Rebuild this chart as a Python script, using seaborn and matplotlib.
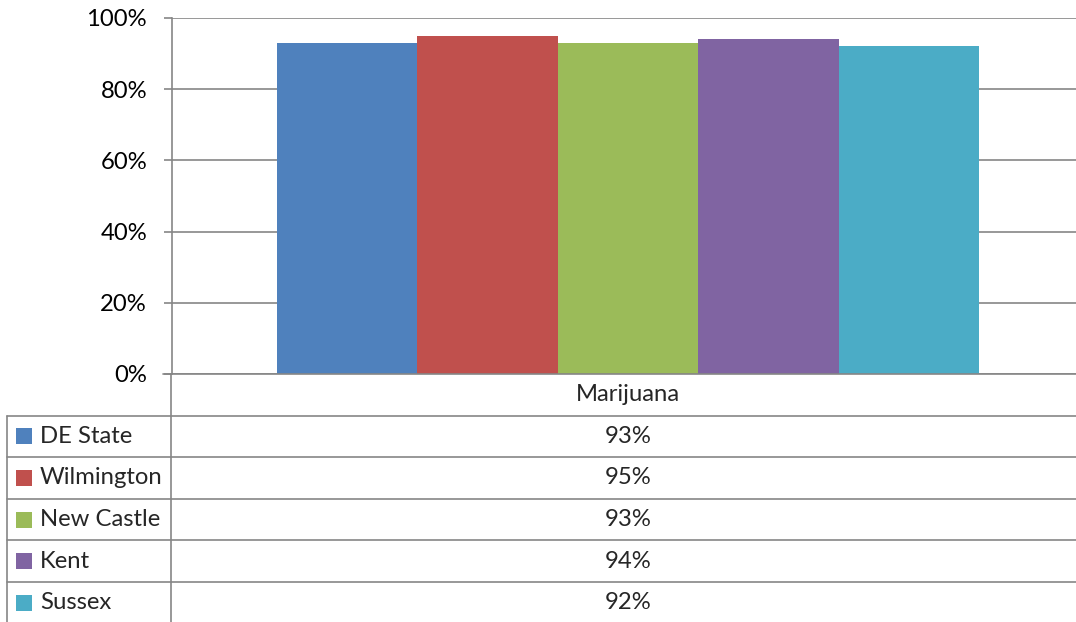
import matplotlib
matplotlib.use("Agg")
import matplotlib.pyplot as plt
import seaborn as sns
import pandas as pd
from matplotlib.ticker import PercentFormatter

# ---- data ----
category = ["Marijuana"]
regions = ["DE State", "Wilmington", "New Castle", "Kent", "Sussex"]
values = [93, 95, 93, 94, 92]
colors = ["#4F81BD", "#C0504D", "#9BBB59", "#8064A2", "#4BACC6"]
yticks = [0, 20, 40, 60, 80, 100]

sns.set_theme(style="white")
plt.rcParams["font.family"] = ["Lato", "DejaVu Sans"]

W, H = 1076, 622
fig = plt.figure(figsize=(W / 100, H / 100), dpi=100)
GRID = "#868686"
FS = 17.2

# main plot area
left, right, top, bottom = 172, 1076, 18, 374
ax = fig.add_axes([left / W, 1 - bottom / H, (right - left) / W, (bottom - top) / H])

df = pd.DataFrame({"cat": category * len(regions), "region": regions, "value": values})
sns.barplot(data=df, x="cat", y="value", hue="region", palette=colors,
            width=702 / 904, saturation=1, ax=ax, legend=False, edgecolor="none")
shift = 4 / 904
ax.set_xlim(-0.5 - shift, 0.5 - shift)
ax.set_ylim(0, 100)
ax.set_yticks(yticks)
ax.yaxis.set_major_formatter(PercentFormatter(decimals=0))
ax.set_xticks([])
ax.set_xlabel("")
ax.set_ylabel("")
for s in ["top", "right", "bottom"]:
    ax.spines[s].set_visible(False)
ax.spines["left"].set_color(GRID)
ax.spines["left"].set_linewidth(1.2)
ax.yaxis.grid(True, color=GRID, linewidth=1.2)
ax.set_axisbelow(True)
ax.tick_params(axis="y", which="major", left=True, length=6, width=1.2,
               color=GRID, pad=12, labelsize=FS, labelcolor="black")

# ---- data table ----
tab = fig.add_axes([0, 0, 1, (H - bottom) / H])
tab.set_xlim(0, W)
tab.set_ylim(H - bottom, 0)
tab.axis("off")
row_h = 41.6
lw = 1.2
cx = 628
# top line (x axis)
tab.plot([163, W], [0, 0], color=GRID, lw=lw, clip_on=False)
# vertical axis line continuation
tab.plot([171, 171], [0, H - bottom], color=GRID, lw=lw, clip_on=False)
# header text
tab.text(cx, row_h / 2, category[0], ha="center", va="center", fontsize=FS)
for i, (r, v, c) in enumerate(zip(regions, values, colors)):
    y0 = row_h * (i + 1)
    tab.plot([7, W], [y0, y0], color=GRID, lw=lw, clip_on=False)
    yc = y0 + row_h / 2
    tab.add_patch(plt.Rectangle((16, yc - 8), 16, 16, color=c, lw=0))
    tab.text(40, yc, r, ha="left", va="center", fontsize=FS)
    tab.text(cx, yc, f"{v}%", ha="center", va="center", fontsize=FS)
tab.plot([7, 7], [row_h, H - bottom], color=GRID, lw=lw, clip_on=False)

fig.savefig("out.png", dpi=100)
